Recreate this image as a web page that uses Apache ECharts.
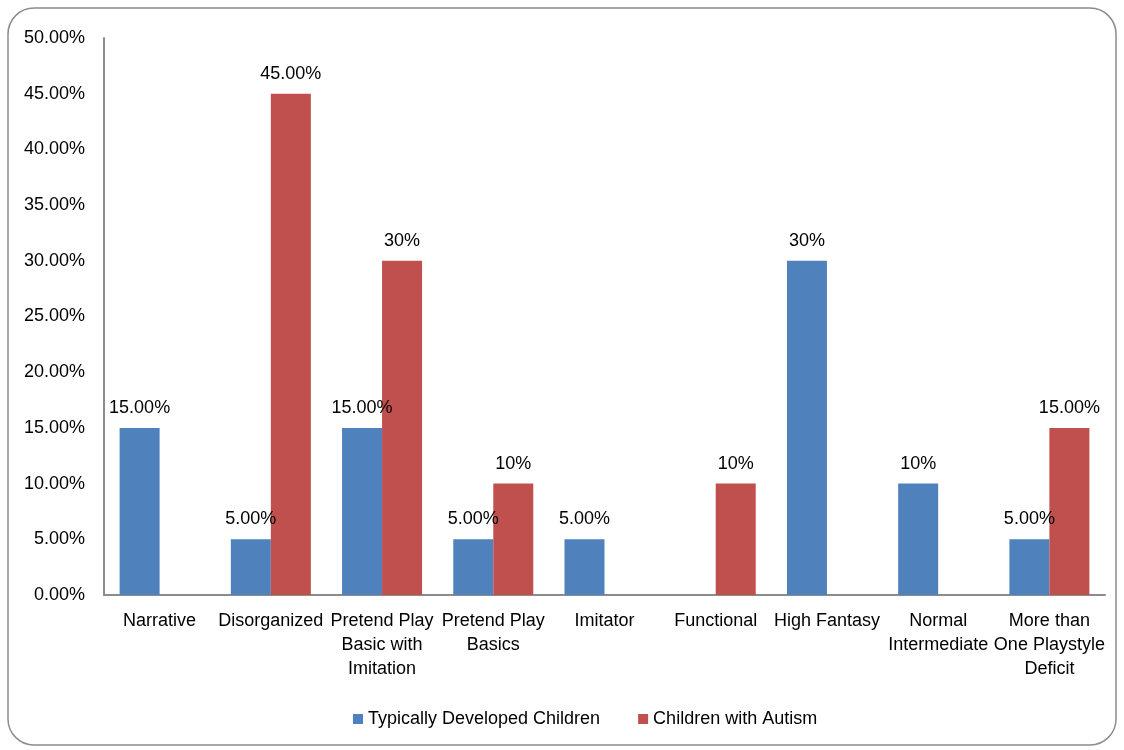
<!DOCTYPE html>
<html>
<head>
<meta charset="utf-8">
<script src="https://cdn.jsdelivr.net/npm/echarts@6/dist/echarts.min.js"></script>
<style>
html,body{margin:0;padding:0;background:#fff;}
#main{width:1124px;height:750px;}
</style>
</head>
<body>
<div id="main"></div>
<script>
var categories = ["Narrative","Disorganized","Pretend Play\nBasic with\nImitation","Pretend Play\nBasics","Imitator","Functional","High Fantasy","Normal\nIntermediate","More than\nOne Playstyle\nDeficit"];
var typicalValues = [15,5,15,5,5,0,30,10,5];
var autismValues = [0,45,30,10,0,10,0,0,15];
var typicalLabels = ["15.00%","5.00%","15.00%","5.00%","5.00%","","30%","10%","5.00%"];
var autismLabels = ["","45.00%","30%","10%","","10%","","","15.00%"];
var yTicks = ["0.00%","5.00%","10.00%","15.00%","20.00%","25.00%","30.00%","35.00%","40.00%","45.00%","50.00%"];

var FONT = "'Liberation Sans Narrow','Arial Narrow','Liberation Sans',Arial,sans-serif";
var FS = 18;
var chart = echarts.init(document.getElementById('main'));
chart.setOption({
  animation:false,
  textStyle:{fontFamily:FONT},
  graphic:[{type:'rect',shape:{x:8,y:8,width:1108,height:737,r:26},style:{fill:'none',stroke:'#8c8c8c',lineWidth:1.5},silent:true}],
  grid:{left:104,right:19,top:38,bottom:155,containLabel:false},
  legend:{bottom:17,left:348,itemWidth:10,itemHeight:10,itemGap:38,icon:'rect',
    textStyle:{fontFamily:FONT,fontSize:FS,color:'#000'},
    data:['Typically Developed Children','Children with Autism']},
  xAxis:{type:'category',data:categories,
    axisLine:{lineStyle:{color:'#8c8c8c',width:2}},axisTick:{show:false},
    axisLabel:{interval:0,margin:14,color:'#000',fontFamily:FONT,fontSize:FS,lineHeight:24}},
  yAxis:{type:'value',min:0,max:50,interval:5,
    axisLine:{show:true,lineStyle:{color:'#8c8c8c',width:2}},axisTick:{show:false},splitLine:{show:false},
    axisLabel:{margin:19,color:'#000',fontFamily:FONT,fontSize:FS,formatter:function(v){return yTicks[Math.round(v/5)];}}},
  series:[
    {name:'Typically Developed Children',type:'bar',data:typicalValues,barWidth:40,barGap:'0%',
      itemStyle:{color:'#4F81BD'},
      label:{show:true,position:'top',distance:11,color:'#000',fontFamily:FONT,fontSize:FS,
        formatter:function(p){return typicalLabels[p.dataIndex];}}},
    {name:'Children with Autism',type:'bar',data:autismValues,barWidth:40,barGap:'0%',
      itemStyle:{color:'#C0504D'},
      label:{show:true,position:'top',distance:11,color:'#000',fontFamily:FONT,fontSize:FS,
        formatter:function(p){return autismLabels[p.dataIndex];}}}
  ]
});
</script>
</body>
</html>
